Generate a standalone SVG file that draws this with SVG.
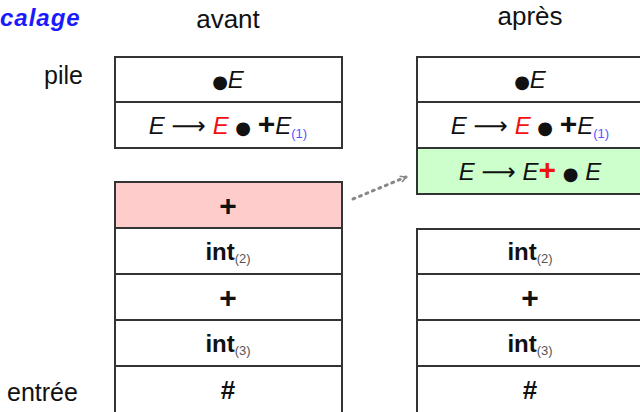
<svg xmlns="http://www.w3.org/2000/svg" width="640" height="412" viewBox="0 0 640 412">
<style>
.cell{stroke:#333;stroke-width:2;fill:#fff}
.pink{fill:#ffcccc}
.green{fill:#ccffcc}
.t{font-family:"Liberation Sans","DejaVu Sans",sans-serif;font-size:24px;fill:#111;text-anchor:middle}
.lbl{font-family:"Liberation Sans","DejaVu Sans",sans-serif;font-size:25px;fill:#111}
.it{font-style:italic}
.b{font-weight:bold}
.big{font-size:30px}
.red{fill:#f01010}
.sub{font-size:13px;fill:#5555ff;font-style:normal;font-weight:normal}
.subg{font-size:13px;fill:#555;font-weight:normal}
.dot{font-family:"DejaVu Sans",sans-serif;font-size:18px;font-style:normal}
</style>
<defs>
<marker id="arr" viewBox="0 0 10 10" refX="8" refY="5" markerWidth="8" markerHeight="8" orient="auto" markerUnits="userSpaceOnUse">
<path d="M1,1 L8,5 L1,9" fill="none" stroke="#888" stroke-width="2"/>
</marker>
</defs>
<text class="lbl b it" x="0" y="26" style="fill:#1a1aff;font-size:24px;letter-spacing:1px">calage</text>
<text class="t" x="228" y="28" style="font-size:26px">avant</text>
<text class="t" x="530" y="25" style="font-size:26px">après</text>
<text class="lbl" x="44" y="84">pile</text>
<text class="lbl" x="7" y="401">entrée</text>

<g id="before-stack1"><rect class="cell" x="115" y="57" width="227" height="45"/><text class="t" x="228" y="88"><tspan class="dot">●</tspan><tspan class="it">E</tspan></text></g>
<g id="before-stack2"><rect class="cell" x="115" y="102" width="227" height="46"/><text class="t" x="228" y="134"><tspan class="it">E</tspan> ⟶ <tspan class="it red">E</tspan> <tspan class="dot">●</tspan> <tspan class="b big">+</tspan><tspan class="it">E</tspan><tspan class="sub" dy="4">(1)</tspan></text></g>
<g id="before-in1"><rect class="cell pink" x="115" y="182" width="227" height="46"/><text class="t b big" x="228" y="216">+</text></g>
<g id="before-in2"><rect class="cell" x="115" y="228" width="227" height="46"/><text class="t b" x="228" y="260">int<tspan class="subg" dy="3">(2)</tspan></text></g>
<g id="before-in3"><rect class="cell" x="115" y="274" width="227" height="46"/><text class="t b big" x="228" y="308">+</text></g>
<g id="before-in4"><rect class="cell" x="115" y="320" width="227" height="46"/><text class="t b" x="228" y="352">int<tspan class="subg" dy="3">(3)</tspan></text></g>
<g id="before-in5"><rect class="cell" x="115" y="366" width="227" height="50"/><text class="t b" x="228" y="399" style="font-size:26px">#</text></g>

<g id="after-stack1"><rect class="cell" x="417" y="57" width="227" height="45"/><text class="t" x="530" y="88"><tspan class="dot">●</tspan><tspan class="it">E</tspan></text></g>
<g id="after-stack2"><rect class="cell" x="417" y="102" width="227" height="46"/><text class="t" x="530" y="134"><tspan class="it">E</tspan> ⟶ <tspan class="it red">E</tspan> <tspan class="dot">●</tspan> <tspan class="b big">+</tspan><tspan class="it">E</tspan><tspan class="sub" dy="4">(1)</tspan></text></g>
<g id="after-stack3"><rect class="cell green" x="417" y="148" width="227" height="46"/><text class="t" x="530" y="180"><tspan class="it">E</tspan> ⟶ <tspan class="it">E</tspan><tspan class="b big red">+</tspan> <tspan class="dot">●</tspan> <tspan class="it">E</tspan></text></g>
<g id="after-in2"><rect class="cell" x="417" y="229" width="227" height="45"/><text class="t b" x="530" y="260">int<tspan class="subg" dy="3">(2)</tspan></text></g>
<g id="after-in3"><rect class="cell" x="417" y="274" width="227" height="46"/><text class="t b big" x="530" y="308">+</text></g>
<g id="after-in4"><rect class="cell" x="417" y="320" width="227" height="46"/><text class="t b" x="530" y="352">int<tspan class="subg" dy="3">(3)</tspan></text></g>
<g id="after-in5"><rect class="cell" x="417" y="366" width="227" height="50"/><text class="t b" x="530" y="399" style="font-size:26px">#</text></g>

<g id="connectors">
<path d="M353,199 L406,177" fill="none" stroke="#888" stroke-width="3" stroke-dasharray="2,5" stroke-linecap="round" marker-end="url(#arr)"/>
</g>
</svg>
